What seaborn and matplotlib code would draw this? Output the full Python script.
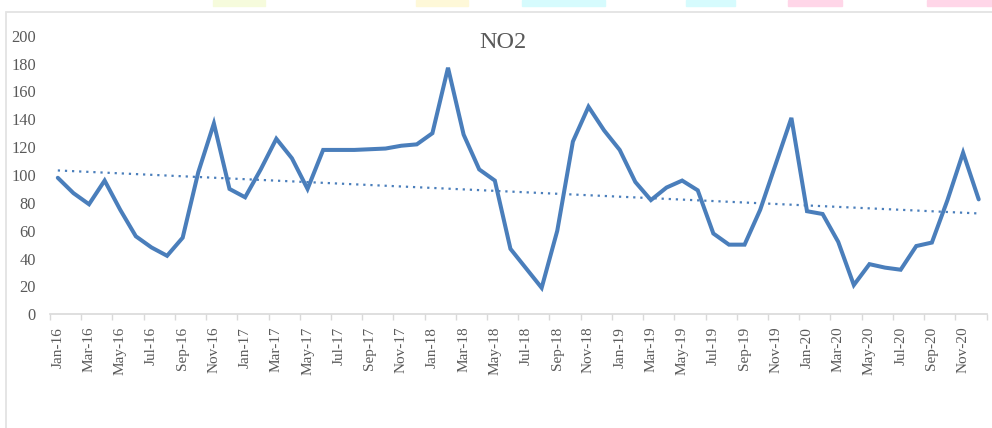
import numpy as np
import pandas as pd
import matplotlib
matplotlib.use("Agg")
import matplotlib.pyplot as plt
from matplotlib.patches import Rectangle
import seaborn as sns

# ---- data ----
months = pd.date_range("2016-01-01", "2020-12-01", freq="MS")
month_labels = [d.strftime("%b-%y") for d in months]
no2 = [98, 87, 79, 96, 75, 56, 48, 42, 55, 102,
       137, 90, 84, 104, 126, 112, 90, 118, 118, 118,
       118.5, 119, 121, 122, 130, 177, 129, 104, 96, 47,
       33, 19, 60, 124, 149, 132, 118, 95, 82, 91,
       96, 89, 58, 50, 50, 75, 108, 141, 74, 72,
       52, 21, 36, 33.5, 32, 49, 51.5, 82, 116, 82.5]
yticks = list(range(0, 201, 20))
title = "NO2"

# ---- styling ----
W, H, DPI = 992, 428, 100
blue = "#4A7EBB"
grey_txt = "#595959"
sns.set_theme(style="white")
plt.rcParams["font.family"] = ["Liberation Serif", "DejaVu Serif"]

fig = plt.figure(figsize=(W / DPI, H / DPI), dpi=DPI)
fig.patch.set_facecolor("white")

# decorative page strips at top and chart frame
for x0, x1, c in [(213, 265, "#F6FBDC"), (416, 468, "#FEF8D8"), (522, 605, "#D6FBFD"),
                  (686, 735, "#D6FBFD"), (788, 842, "#FFD6E8"), (927, 992, "#FFD6E8")]:
    fig.patches.append(Rectangle((x0 / W, 1 - 6 / H), (x1 - x0) / W, 6 / H,
                                 transform=fig.transFigure, color=c, zorder=0))
fig.patches.append(Rectangle((5.5 / W, -0.05), 1.2, 1 - 12 / H + 0.05,
                             transform=fig.transFigure, fill=False,
                             edgecolor="#E3E3E3", linewidth=1.3, zorder=0))

left, right = 50 / W, 986.5 / W
bottom, top = 1 - 314.3 / H, 1 - 35.7 / H
ax = fig.add_axes([left, bottom, right - left, top - bottom])
ax.set_facecolor("none")

df = pd.DataFrame({"idx": np.arange(len(no2)), "NO2": no2})
sns.lineplot(data=df, x="idx", y="NO2", ax=ax, color=blue, linewidth=2.9,
             solid_joinstyle="miter")
sns.regplot(data=df, x="idx", y="NO2", ax=ax, scatter=False, ci=None,
            line_kws=dict(color=blue, linewidth=1.6, linestyle=(0, (1, 2.2))))

ax.set_xlim(-0.5, len(no2) - 0.5)
ax.set_ylim(0, 200)
ax.set_xlabel("")
ax.set_ylabel("")

ax.set_yticks(yticks)
ax.set_yticklabels([str(v) for v in yticks], fontsize=11.8, color=grey_txt)
ax.tick_params(axis="y", length=0, pad=10)

ax.set_xticks(np.arange(0, len(no2), 2))
ax.set_xticklabels(month_labels[::2], rotation=90, fontsize=11, color=grey_txt)
ax.set_xticks(np.arange(-0.5, len(no2), 2), minor=True)
ax.tick_params(axis="x", which="major", length=0, pad=9)
ax.tick_params(axis="x", which="minor", length=4.5, width=1, color="#D9D9D9",
               direction="out", bottom=True)

for s in ["top", "right", "left"]:
    ax.spines[s].set_visible(False)
ax.spines["bottom"].set_color("#D9D9D9")
ax.spines["bottom"].set_linewidth(1.2)

fig.text(503 / W, 1 - 42 / H, title, ha="center", va="center",
         fontsize=17.5, color=grey_txt)

fig.savefig("out.png", dpi=DPI)
